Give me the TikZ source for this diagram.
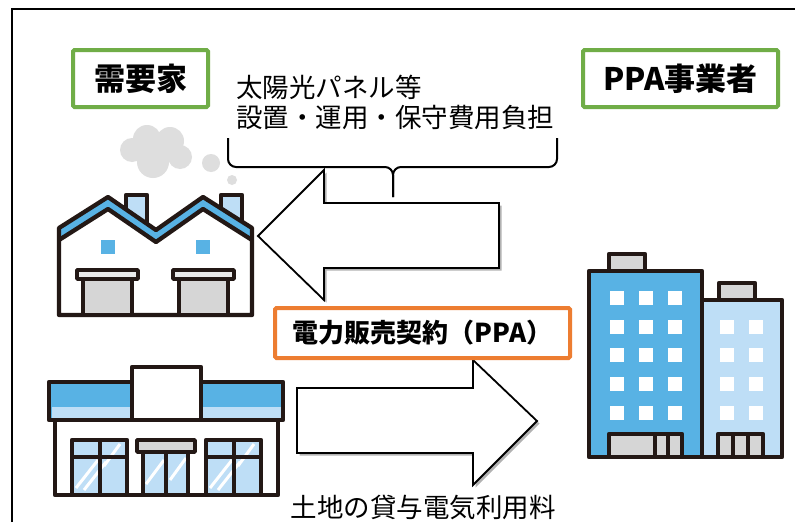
\documentclass[tikz,border=0pt]{standalone}
\usepackage{fontspec}
\setmainfont{Noto Sans CJK JP}
\usepackage{tikz}
\usetikzlibrary{positioning,shadows}
\definecolor{BoxGreen}{RGB}{112,173,71}
\definecolor{BoxOrange}{RGB}{237,125,49}
\definecolor{RoofBlue}{RGB}{88,178,228}
\definecolor{PaleBlue}{RGB}{190,222,246}
\definecolor{Outline}{RGB}{35,24,21}
\definecolor{DoorGray}{RGB}{214,214,214}
\definecolor{CloudGray}{RGB}{222,222,222}

\begin{document}
\begin{tikzpicture}[x=1pt,y=-1pt,
       every node/.style={font=\fontsize{26.5}{30}\selectfont, inner sep=0pt},
       rolebox/.style={rectangle, draw=BoxGreen, line width=4pt, rounded corners=1.5pt,
                       fill=white, minimum width=135pt, minimum height=57pt,
                       font=\fontsize{31}{36}\selectfont\bfseries},
       contractbox/.style={rectangle, draw=BoxOrange, line width=4pt, rounded corners=1.5pt,
                       fill=white, minimum width=295pt, minimum height=50pt,
                       font=\fontsize{26}{30}\selectfont\bfseries},
       blockarrow/.style={draw=black, line width=1.8pt, fill=white, line join=miter,
                       drop shadow={shadow xshift=2.5pt, shadow yshift=-2.5pt, opacity=.3, fill=black}},
       icon/.style={draw=Outline, line width=4.3pt, line join=round},
       costbrace/.style={draw=black, line width=2pt, rounded corners=8pt}]
	\useasboundingbox (0,0) rectangle (795,522);
	\fill[white] (0,0) rectangle (795,522);

	%% Frame
	\draw[line width=2.6pt] (12,522) -- (12,9) -- (795,9);

	%% Roles
	\node [rolebox] (consumer) at (140.5,78.5) {需要家};
	\node [rolebox, minimum width=195pt] (provider) at (680.5,78.5) {PPA事業者};

	%% Costs carried by the provider
	\node [anchor=west, align=left] (costs) at (236,102) {太陽光パネル等\\設置・運用・保守費用負担};
	\draw[costbrace] (228,138) -- (228,167) -- (393,167) -- (393,197);
	\draw[costbrace] (557,138) -- (557,167) -- (393,167) -- (393,197);

	%% Factory
	\fill[CloudGray] (132,150) circle (12pt) (147,139) circle (14pt) (170,141) circle (14pt)
	                 (180,157) circle (12pt) (153,162) circle (16pt) (160,150) circle (14pt);
	\fill[CloudGray] (211,163) circle (9pt) (232,180) circle (5pt);
	\draw[icon, fill=PaleBlue] (126,228) rectangle (147,195);
	\draw[icon, fill=PaleBlue] (221,228) rectangle (242,195);
	\fill[white] (59,315) -- (59,228) -- (108,197) -- (156,230) -- (203,197) -- (252,228) -- (252,315) -- cycle;
	\fill[RoofBlue] (59,228) -- (108,197) -- (156,230) -- (203,197) -- (252,228)
	             -- (252,240) -- (203,209) -- (156,242) -- (108,209) -- (59,240) -- cycle;
	\draw[icon] (59,240) -- (108,209) -- (156,242) -- (203,209) -- (252,240);
	\draw[icon] (59,315) -- (59,228) -- (108,197) -- (156,230) -- (203,197) -- (252,228) -- (252,315) -- cycle;
	\foreach \x in {108,203}
		\fill[RoofBlue] (\x-7,240) rectangle ++(14,14);
	\foreach \x in {77,173} {
		\draw[icon, fill=DoorGray] (\x+6,279) rectangle ++(49,36);
		\draw[icon, line width=3.5pt, fill=DoorGray!50] (\x,270) rectangle ++(61,9);
	}

	%% Shop
	\draw[icon, fill=RoofBlue] (49,382) rectangle (283,420);
	\fill[PaleBlue] (51.5,407) rectangle (280.5,417.5);
	\draw[icon] (49,420) -- (283,420);
	\draw[icon, fill=white] (55,420) rectangle (278,495);
	\draw[icon, fill=white] (132,367) rectangle (201,420);
	\foreach \x in {72,206} {
		\fill[PaleBlue] (\x,440) rectangle ++(55,55);
		\begin{scope}
			\clip (\x,440) rectangle ++(55,55);
			\draw[white, line width=3pt] (\x+4,488) -- ++(22,-28) (\x+12,490) -- ++(22,-28)
			                             (\x+32,466) -- ++(16,-22);
		\end{scope}
		\draw[icon] (\x,440) rectangle ++(55,55);
		\draw[icon] (\x+28,440) -- ++(0,55) (\x,457) -- ++(55,0);
	}
	\fill[PaleBlue] (143,452) rectangle (188,495);
	\begin{scope}
		\clip (143,452) rectangle (188,495);
		\draw[white, line width=3pt] (146,484) -- ++(18,-24) (170,480) -- ++(16,-22);
	\end{scope}
	\draw[icon] (143,452) rectangle (188,495) (166,452) -- (166,495);
	\draw[icon, line width=3.5pt, fill=DoorGray] (137,440) rectangle (195,452);

	%% Office buildings
	\draw[icon, fill=DoorGray] (609,254) rectangle (645,272);
	\draw[icon, fill=RoofBlue] (589,271) rectangle (702,457);
	\foreach \x in {617,646,675}
		\foreach \y in {298,327,355,384,413}
			\fill[white] (\x-7,\y-7) rectangle ++(14,14);
	\draw[icon, fill=DoorGray] (609,434) rectangle (682,457);
	\draw[icon] (655,434) -- (655,457) (668,434) -- (668,457);
	\draw[icon, fill=DoorGray] (719,283) rectangle (755,300);
	\draw[icon, fill=PaleBlue] (702,300) rectangle (782,457);
	\foreach \x in {727,756}
		\foreach \y in {327,355,384,413}
			\fill[white] (\x-7,\y-7) rectangle ++(14,14);
	\draw[icon, fill=DoorGray] (718,434) rectangle (763,457);
	\draw[icon] (733,434) -- (733,457) (748,434) -- (748,457);

	%% Flows between the two sides
	\coordinate (supplytip) at (258,236);
	\coordinate (feetip) at (537,421);
	\path[blockarrow] (supplytip) -- ++(66,-66) -- ++(0,33) -- ++(175,0) -- ++(0,65)
	                  -- ++(-175,0) -- ++(0,32) -- cycle;
	\path[blockarrow] (feetip) -- ++(-64,-61) -- ++(0,28) -- ++(-176,0) -- ++(0,65)
	                  -- ++(176,0) -- ++(0,32) -- cycle;

	%% Contract and fee
	\node [contractbox] (ppa) at (422.5,333) {電力販売契約（PPA）};
	\node (fee) at (423,507) {土地の貸与電気利用料};
\end{tikzpicture}
\end{document}
